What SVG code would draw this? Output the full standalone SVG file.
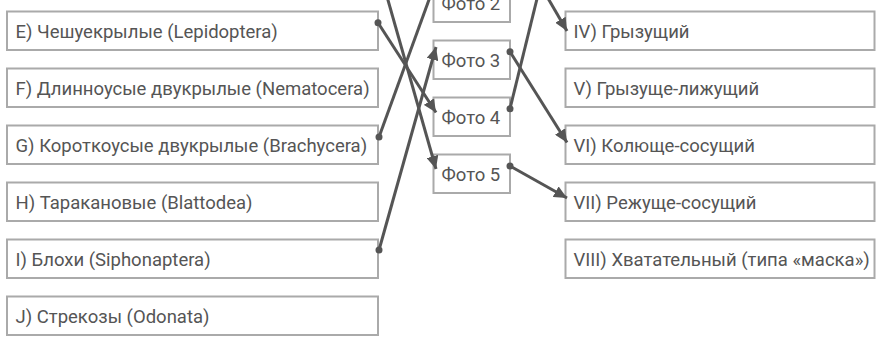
<svg xmlns="http://www.w3.org/2000/svg" width="881" height="337" viewBox="0 0 881 337">
<defs>
<style>
.box{fill:#fff;stroke:#aaa;stroke-width:2}
.lbl{font-family:Roboto,"Noto Sans",sans-serif;font-size:18.5px;fill:#555}
.ln{stroke:#555;stroke-width:3;fill:none}
.dot{fill:#555}
</style>
<marker id="arr" markerUnits="userSpaceOnUse" markerWidth="14" markerHeight="12" refX="13" refY="6" orient="auto">
<path d="M0,0 L13,6 L0,12 z" fill="#555"/>
</marker>
</defs>
<rect width="881" height="337" fill="#fff"/>
<g id="E"><rect class="box" x="7" y="11.5" width="371" height="38.5"/><text class="lbl" x="15.5" y="38">E) Чешуекрылые (Lepidoptera)</text></g>
<g id="F"><rect class="box" x="7" y="68.5" width="371" height="38.5"/><text class="lbl" x="15.5" y="95">F) Длинноусые двукрылые (Nematocera)</text></g>
<g id="G"><rect class="box" x="7" y="125.5" width="371" height="38.5"/><text class="lbl" x="15.5" y="152">G) Короткоусые двукрылые (Brachycera)</text></g>
<g id="H"><rect class="box" x="7" y="182.5" width="371" height="38.5"/><text class="lbl" x="15.5" y="209">H) Таракановые (Blattodea)</text></g>
<g id="I"><rect class="box" x="7" y="239.5" width="371" height="38.5"/><text class="lbl" x="15.5" y="266">I) Блохи (Siphonaptera)</text></g>
<g id="J"><rect class="box" x="7" y="296.5" width="371" height="38.5"/><text class="lbl" x="15.5" y="323">J) Стрекозы (Odonata)</text></g>
<g id="P2"><rect class="box" x="433.5" y="-16.5" width="76.5" height="38.5"/><text class="lbl" x="441.5" y="10">Фото 2</text></g>
<g id="P3"><rect class="box" x="433.5" y="40.5" width="76.5" height="38.5"/><text class="lbl" x="441.5" y="67">Фото 3</text></g>
<g id="P4"><rect class="box" x="433.5" y="97.5" width="76.5" height="38.5"/><text class="lbl" x="441.5" y="124">Фото 4</text></g>
<g id="P5"><rect class="box" x="433.5" y="154.5" width="76.5" height="38.5"/><text class="lbl" x="441.5" y="181">Фото 5</text></g>
<g id="IV"><rect class="box" x="565.5" y="11.5" width="309" height="38.5"/><text class="lbl" x="573.5" y="38">IV) Грызущий</text></g>
<g id="V"><rect class="box" x="565.5" y="68.5" width="309" height="38.5"/><text class="lbl" x="573.5" y="95">V) Грызуще-лижущий</text></g>
<g id="VI"><rect class="box" x="565.5" y="125.5" width="309" height="38.5"/><text class="lbl" x="573.5" y="152">VI) Колюще-сосущий</text></g>
<g id="VII"><rect class="box" x="565.5" y="182.5" width="309" height="38.5"/><text class="lbl" x="573.5" y="209">VII) Режуще-сосущий</text></g>
<g id="VIII"><rect class="box" x="565.5" y="239.5" width="309" height="38.5"/><text class="lbl" x="573.5" y="266">VIII) Хватательный (типа «маска»)</text></g>
<g id="connectors">
<line class="ln" x1="378" y1="22.7" x2="436" y2="112.5" marker-end="url(#arr)"/>
<line class="ln" x1="378" y1="-35" x2="436" y2="169" marker-end="url(#arr)"/>
<line class="ln" x1="379" y1="137" x2="434" y2="-14" marker-end="url(#arr)"/>
<line class="ln" x1="379" y1="250" x2="436" y2="47" marker-end="url(#arr)"/>
<line class="ln" x1="510" y1="51.7" x2="567" y2="142.5" marker-end="url(#arr)"/>
<line class="ln" x1="510" y1="108.7" x2="548" y2="-46"/>
<line class="ln" x1="510" y1="166" x2="567" y2="198" marker-end="url(#arr)"/>
<line class="ln" x1="531" y1="-31" x2="567" y2="31" marker-end="url(#arr)"/>
<circle class="dot" cx="378" cy="22.7" r="3.5"/>
<circle class="dot" cx="379" cy="137" r="3.5"/>
<circle class="dot" cx="379" cy="250" r="3.5"/>
<circle class="dot" cx="510" cy="51.7" r="3.5"/>
<circle class="dot" cx="510" cy="108.7" r="3.5"/>
<circle class="dot" cx="510" cy="166" r="3.5"/>
</g>
</svg>
